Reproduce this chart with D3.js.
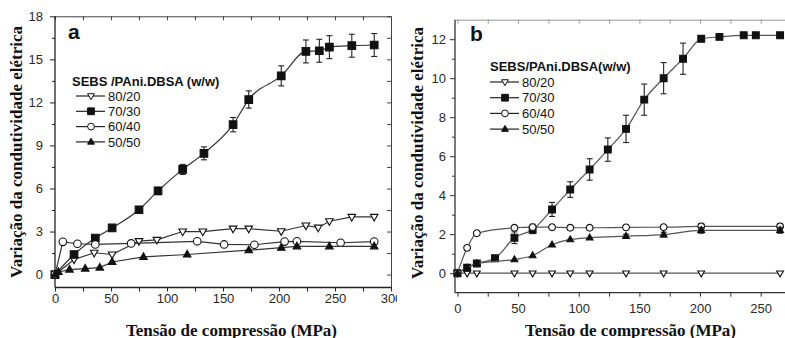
<!DOCTYPE html>
<html>
<head>
<meta charset="utf-8">
<script src="https://cdn.jsdelivr.net/npm/d3@7"></script>
<style>
  body { margin: 0; background: #fff; }
  svg { display: block; }
</style>
</head>
<body>
<svg id="fig" width="785" height="338"></svg>
<script>
// ---- data ----
let legendLabels = ["80/20", "70/30", "60/40", "50/50"];

// panel a
let a8020X = [0, 17, 35, 51, 75, 91, 114, 132, 159, 173, 202, 224, 235, 245, 265, 285];
let a8020Y = [0, 1.05, 1.52, 1.4, 2.33, 2.42, 3.0, 3.0, 3.2, 3.2, 3.02, 3.42, 3.27, 3.72, 4.02, 4.02];
let a7030X = [0, 17, 36, 51, 75, 92, 114, 133, 159, 173, 202, 224, 236, 245, 265, 285];
let a7030Y = [0, 1.4, 2.55, 3.25, 4.52, 5.83, 7.33, 8.45, 10.45, 12.2, 13.85, 15.55, 15.6, 15.85, 15.95, 16.0];
let a7030Err = [0, 0, 0, 0, 0.15, 0.25, 0.35, 0.45, 0.5, 0.6, 0.7, 0.8, 0.8, 0.8, 0.8, 0.8];
let a6040X = [0, 7, 20, 36, 68, 127, 151, 178, 205, 216, 255, 285];
let a6040Y = [0, 2.28, 2.15, 2.1, 2.17, 2.32, 2.1, 2.08, 2.3, 2.32, 2.22, 2.3];
let a5050X = [0, 3, 13, 27, 40, 51, 79, 118, 173, 202, 216, 245, 285];
let a5050Y = [0, 0.18, 0.35, 0.42, 0.49, 0.88, 1.23, 1.4, 1.7, 1.88, 1.97, 1.97, 1.97];

// panel b
let b8020X = [0, 8, 16, 47, 62, 78, 93, 109, 139, 170, 201, 266];
let b8020Y = [0, 0, 0, 0, 0, 0, 0, 0, 0, 0, 0, 0];
let b7030X = [0, 8, 16, 31, 47, 62, 78, 93, 109, 124, 139, 154, 170, 186, 201, 216, 236, 246, 266];
let b7030Y = [0, 0.28, 0.5, 0.77, 1.82, 2.23, 3.27, 4.29, 5.32, 6.34, 7.4, 8.9, 10.0, 11.0, 12.02, 12.12, 12.2, 12.2, 12.2];
let b7030Err = [0, 0, 0, 0, 0.3, 0.2, 0.36, 0.4, 0.55, 0.6, 0.7, 0.8, 0.8, 0.8, 0, 0, 0, 0, 0];
let b6040X = [0, 8, 16, 47, 62, 78, 93, 109, 139, 170, 201, 266];
let b6040Y = [0, 1.3, 2.05, 2.33, 2.36, 2.36, 2.33, 2.33, 2.35, 2.36, 2.4, 2.4];
let b6040Err = [0, 0.1, 0.1, 0.1, 0.15, 0.12, 0.12, 0.1, 0.1, 0.1, 0.15, 0.15];
let b5050X = [0, 8, 16, 47, 62, 78, 93, 109, 139, 170, 201, 266];
let b5050Y = [0, 0.28, 0.5, 0.7, 0.91, 1.46, 1.73, 1.82, 1.9, 1.98, 2.2, 2.2];
let b5050Err = [0, 0, 0, 0, 0, 0, 0, 0, 0.1, 0.12, 0.15, 0.15];

let aYTicks = [0, 3, 6, 9, 12, 15, 18];
let aXTicks = [0, 50, 100, 150, 200, 250, 300];
let bYTicks = [0, 2, 4, 6, 8, 10, 12];
let bXTicks = [0, 50, 100, 150, 200, 250];

let shapes = ["down", "square", "circle", "up"];
let fills = ["#fff", "#111", "#fff", "#111"];

let svg = d3.select('#fig');

function shapePath(type, r) {
    if (type == "square") return `M${-r},${-r}h${2 * r}v${2 * r}h${-2 * r}Z`;
    if (type == "circle") return `M${r},0A${r},${r} 0 1,1 ${-r},0A${r},${r} 0 1,1 ${r},0Z`;
    let h = r * 1.75;
    if (type == "up") return `M0,${-h * 0.62}L${r},${h * 0.38}L${-r},${h * 0.38}Z`;
    return `M0,${h * 0.62}L${r},${-h * 0.38}L${-r},${-h * 0.38}Z`;
}

function zip(xs, ys, es) {
    return xs.map((x, i) => ({x: x, y: ys[i], e: es ? es[i] : 0}));
}

function drawPanel(g, p) {
    let x = d3.scaleLinear().domain(p.xDomain).range(p.xRange);
    let y = d3.scaleLinear().domain(p.yDomain).range(p.yRange);
    let x0 = p.xRange[0], x1 = p.xRange[1], y0 = p.yRange[0], y1 = p.yRange[1];

    // frame: top and right
    g.append("g").attr("transform", `translate(0,${y1})`)
        .call(d3.axisTop(x).tickValues(p.xTicks.concat(p.xMinor)).tickSizeInner(-4).tickSizeOuter(0).tickFormat(""))
        .call(a => a.selectAll("line,path").attr("stroke", p.frameColor));
    if (p.rightFrame) {
        g.append("g").attr("transform", `translate(${x1},0)`)
            .call(d3.axisRight(y).tickValues(p.yTicks.concat(p.yMinor)).tickSizeInner(-4).tickSizeOuter(0).tickFormat(""))
            .call(a => a.selectAll("line,path").attr("stroke", p.frameColor));
    }

    // minor ticks
    g.append("g").attr("transform", `translate(0,${y0})`)
        .call(d3.axisBottom(x).tickValues(p.xMinor).tickSizeInner(4).tickSizeOuter(0).tickFormat(""))
        .call(a => a.select(".domain").remove())
        .call(a => a.selectAll("line").attr("stroke", p.axisColor));
    g.append("g").attr("transform", `translate(${x0},0)`)
        .call(d3.axisLeft(y).tickValues(p.yMinor).tickSizeInner(3).tickSizeOuter(0).tickFormat(""))
        .call(a => a.select(".domain").remove())
        .call(a => a.selectAll("line").attr("stroke", p.axisColor));

    // main axes
    let xAxis = g.append("g").attr("transform", `translate(0,${y0})`)
        .call(d3.axisBottom(x).tickValues(p.xTicks).tickSizeInner(4).tickSizeOuter(0).tickPadding(p.xPad));
    let yAxis = g.append("g").attr("transform", `translate(${x0},0)`)
        .call(d3.axisLeft(y).tickValues(p.yTicks).tickSizeInner(5).tickSizeOuter(0).tickPadding(p.yPad));
    [xAxis, yAxis].forEach(a => {
        a.select(".domain").attr("stroke", p.axisColor).attr("stroke-width", 1.3);
        a.selectAll("line").attr("stroke", p.axisColor);
        a.selectAll("text").attr("font-family", "'Liberation Sans', Arial, sans-serif")
            .attr("font-size", "13px").attr("fill", "#2a2a2a");
    });
    // extend domain line of x axis across the full width
    xAxis.select(".domain").attr("d", `M${x0},0H${x1}`);
    yAxis.select(".domain").attr("d", `M0,${y0}V${y1}`);

    // series
    p.series.forEach((s, si) => {
        let pts = s.data;
        let line = d3.line().x(d => x(d.x)).y(d => y(d.y)).curve(s.smooth ? d3.curveMonotoneX : d3.curveLinear);
        g.append("path").datum(pts)
            .attr("d", line)
            .attr("fill", "none")
            .attr("stroke", p.lineColor)
            .attr("stroke-width", 1.2);

        let eb = g.append("g").attr("stroke", "#222").attr("stroke-width", 1.1);
        pts.filter(d => d.e > 0).forEach(d => {
            let cx = x(d.x);
            eb.append("line").attr("x1", cx).attr("x2", cx).attr("y1", y(d.y - d.e)).attr("y2", y(d.y + d.e));
            eb.append("line").attr("x1", cx - 3).attr("x2", cx + 3).attr("y1", y(d.y - d.e)).attr("y2", y(d.y - d.e));
            eb.append("line").attr("x1", cx - 3).attr("x2", cx + 3).attr("y1", y(d.y + d.e)).attr("y2", y(d.y + d.e));
        });

        g.append("g").selectAll("path").data(pts).enter()
            .append("path")
            .attr("transform", d => `translate(${x(d.x)},${y(d.y)})`)
            .attr("d", shapePath(shapes[si], p.markR))
            .attr("fill", fills[si])
            .attr("stroke", "#111")
            .attr("stroke-width", 1.1);
    });

    // legend
    let lg = g.append("g").attr("font-family", "'Liberation Sans', Arial, sans-serif").attr("fill", "#111");
    lg.append("text").attr("x", p.legend.titleX).attr("y", p.legend.titleY)
        .attr("font-size", "13px").attr("font-weight", "bold").text(p.legend.title);
    legendLabels.forEach((lab, i) => {
        let ly = p.legend.rowY + i * p.legend.step;
        lg.append("line").attr("x1", p.legend.x + 4).attr("x2", p.legend.x + 33)
            .attr("y1", ly).attr("y2", ly).attr("stroke", "#222").attr("stroke-width", 1.2);
        lg.append("path").attr("transform", `translate(${p.legend.x + 19},${ly})`)
            .attr("d", shapePath(shapes[i], 3.4)).attr("fill", fills[i])
            .attr("stroke", "#111").attr("stroke-width", 1);
        lg.append("text").attr("x", p.legend.x + 36).attr("y", ly + 4.6)
            .attr("font-size", "13px").text(lab);
    });

    // panel letter
    g.append("text").attr("x", p.letter.x).attr("y", p.letter.y)
        .attr("font-family", "'Liberation Sans', Arial, sans-serif")
        .attr("font-weight", "bold").attr("font-size", "21px").attr("fill", "#111")
        .text(p.letter.t);

    // axis titles
    g.append("text")
        .attr("transform", `translate(${p.yTitle.x},${p.yTitle.y}) rotate(-90)`)
        .attr("text-anchor", "middle")
        .attr("font-family", "'Liberation Serif', 'Times New Roman', serif")
        .attr("font-weight", "bold").attr("font-size", "17px").attr("fill", "#111")
        .text("Variação da condutividade elétrica");
    g.append("text")
        .attr("x", p.xTitle.x).attr("y", p.xTitle.y)
        .attr("text-anchor", "middle")
        .attr("font-family", "'Liberation Serif', 'Times New Roman', serif")
        .attr("font-weight", "bold").attr("font-size", "17px").attr("fill", "#111")
        .text("Tensão de compressão (MPa)");
}

// panel a sits in its own clipped box, its last tick label is cut by panel b
let gA = svg.append("svg").attr("width", 397).attr("height", 338).attr("overflow", "hidden");
drawPanel(gA, {
    xDomain: [0, 300], xRange: [55, 391],
    yDomain: [-0.9, 18], yRange: [287.5, 16.3],
    xTicks: aXTicks, xMinor: [25, 75, 125, 175, 225, 275],
    yTicks: aYTicks, yMinor: [1.5, 4.5, 7.5, 10.5, 13.5, 16.5],
    xPad: 2, yPad: 7,
    axisColor: "#222", frameColor: "#444", lineColor: "#333",
    rightFrame: true, markR: 3.8,
    series: [
        {data: zip(a8020X, a8020Y)},
        {data: zip(a7030X, a7030Y, a7030Err), smooth: true},
        {data: zip(a6040X, a6040Y)},
        {data: zip(a5050X, a5050Y)}
    ],
    legend: {x: 72, titleX: 72, titleY: 86, rowY: 96, step: 15.3, title: "SEBS /PAni.DBSA (w/w)"},
    letter: {x: 68, y: 39, t: "a"},
    yTitle: {x: 22, y: 152},
    xTitle: {x: 231.5, y: 335.5}
});

let gB = svg.append("g");
drawPanel(gB, {
    xDomain: [-2, 275], xRange: [455, 791],
    yDomain: [-1, 13], yRange: [292.7, 19.7],
    xTicks: bXTicks, xMinor: [25, 75, 125, 175, 225],
    yTicks: bYTicks, yMinor: [1, 3, 5, 7, 9, 11],
    xPad: 7, yPad: 4,
    axisColor: "#333", frameColor: "#999", lineColor: "#555",
    rightFrame: false, markR: 3.4,
    series: [
        {data: zip(b8020X, b8020Y), smooth: true},
        {data: zip(b7030X, b7030Y, b7030Err), smooth: true},
        {data: zip(b6040X, b6040Y, b6040Err), smooth: true},
        {data: zip(b5050X, b5050Y, b5050Err), smooth: true}
    ],
    legend: {x: 486, titleX: 490, titleY: 71, rowY: 82, step: 15.7, title: "SEBS/PAni.DBSA(w/w)"},
    letter: {x: 470, y: 41, t: "b"},
    yTitle: {x: 423, y: 153},
    xTitle: {x: 630.5, y: 335.5}
});
</script>
</body>
</html>
